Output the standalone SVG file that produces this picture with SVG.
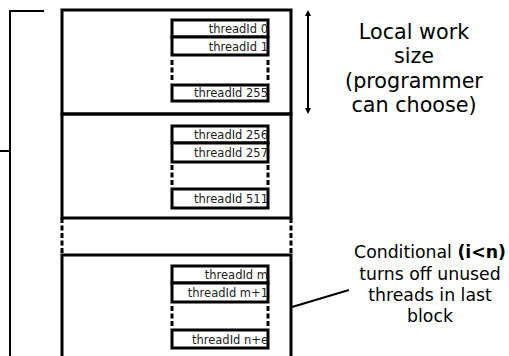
<svg xmlns="http://www.w3.org/2000/svg" width="509" height="356" viewBox="0 0 509 356">
<style>
.blk{fill:none;stroke:#000;stroke-width:3}
.thr{fill:#fff;stroke:#000;stroke-width:3}
.dash{fill:none;stroke:#000;stroke-width:3;stroke-dasharray:5 2.5}
.ln{fill:none;stroke:#000;stroke-width:2}
.tid{font-family:"DejaVu Sans",sans-serif;font-size:11.5px;text-anchor:end;fill:#222}
.lbl{font-family:"DejaVu Sans",sans-serif;text-anchor:middle;fill:#000}
</style>
<defs>
<marker id="ah" viewBox="0 0 6 6" refX="3" refY="3" markerWidth="6" markerHeight="6" orient="auto-start-reverse" markerUnits="userSpaceOnUse">
<path d="M0,0 L6,3 L0,6 Z" fill="#000"/>
</marker>
<clipPath id="cb"><rect x="0" y="0" width="268" height="356"/></clipPath>
</defs>
<rect width="509" height="356" fill="#fff"/>
<g id="connectors">
<polyline class="ln" points="44,11 10,11 10,356"/>
<line class="ln" x1="0" y1="151" x2="10" y2="151"/>
<line class="ln" x1="308" y1="13" x2="308" y2="111" marker-start="url(#ah)" marker-end="url(#ah)"/>
<line class="ln" x1="292" y1="307" x2="349" y2="290" stroke-width="2.5"/>
<line class="dash" x1="62" y1="218" x2="62" y2="255"/>
<line class="dash" x1="291" y1="218" x2="291" y2="255"/>
</g>
<g id="block1">
<rect class="blk" x="62" y="10" width="229" height="104"/>
<rect class="thr" x="172" y="20" width="96" height="17"/>
<rect class="thr" x="172" y="37" width="96" height="18"/>
<line class="dash" x1="172" y1="60" x2="172" y2="80"/>
<line class="dash" x1="268" y1="60" x2="268" y2="80"/>
<rect class="thr" x="172" y="85" width="96" height="16"/>
<g clip-path="url(#cb)">
<text class="tid" x="268" y="33">threadId 0</text>
<text class="tid" x="268" y="51">threadId 1</text>
<text class="tid" x="268" y="97">threadId 255</text>
</g>
</g>
<g id="block2">
<rect class="blk" x="62" y="114" width="229" height="104"/>
<rect class="thr" x="172" y="126" width="96" height="17"/>
<rect class="thr" x="172" y="143" width="96" height="19"/>
<line class="dash" x1="172" y1="165" x2="172" y2="185"/>
<line class="dash" x1="268" y1="165" x2="268" y2="185"/>
<rect class="thr" x="172" y="189" width="96" height="19"/>
<g clip-path="url(#cb)">
<text class="tid" x="268" y="139">threadId 256</text>
<text class="tid" x="268" y="157">threadId 257</text>
<text class="tid" x="268" y="203">threadId 511</text>
</g>
</g>
<g id="block3">
<polyline class="blk" points="62,356 62,255 291,255 291,356"/>
<rect class="thr" x="172" y="266" width="96" height="17"/>
<rect class="thr" x="172" y="283" width="96" height="19"/>
<line class="dash" x1="172" y1="306" x2="172" y2="326"/>
<line class="dash" x1="268" y1="306" x2="268" y2="326"/>
<rect class="thr" x="172" y="330" width="96" height="18"/>
<g clip-path="url(#cb)">
<text class="tid" x="268" y="279">threadId m</text>
<text class="tid" x="268" y="297">threadId m+1</text>
<text class="tid" x="268" y="344">threadId n+e</text>
</g>
</g>
<g id="label-local">
<text class="lbl" font-size="20.7" x="414" y="39">Local work</text>
<text class="lbl" font-size="20.7" x="414" y="63">size</text>
<text class="lbl" font-size="20.7" x="414" y="88">(programmer</text>
<text class="lbl" font-size="20.7" x="414" y="112">can choose)</text>
</g>
<g id="label-cond">
<text class="lbl" font-size="17.3" x="430" y="258">Conditional <tspan font-weight="bold">(i&lt;n)</tspan></text>
<text class="lbl" font-size="17.3" x="430" y="280">turns off unused</text>
<text class="lbl" font-size="17.3" x="430" y="301">threads in last</text>
<text class="lbl" font-size="17.3" x="430" y="322">block</text>
</g>
</svg>
